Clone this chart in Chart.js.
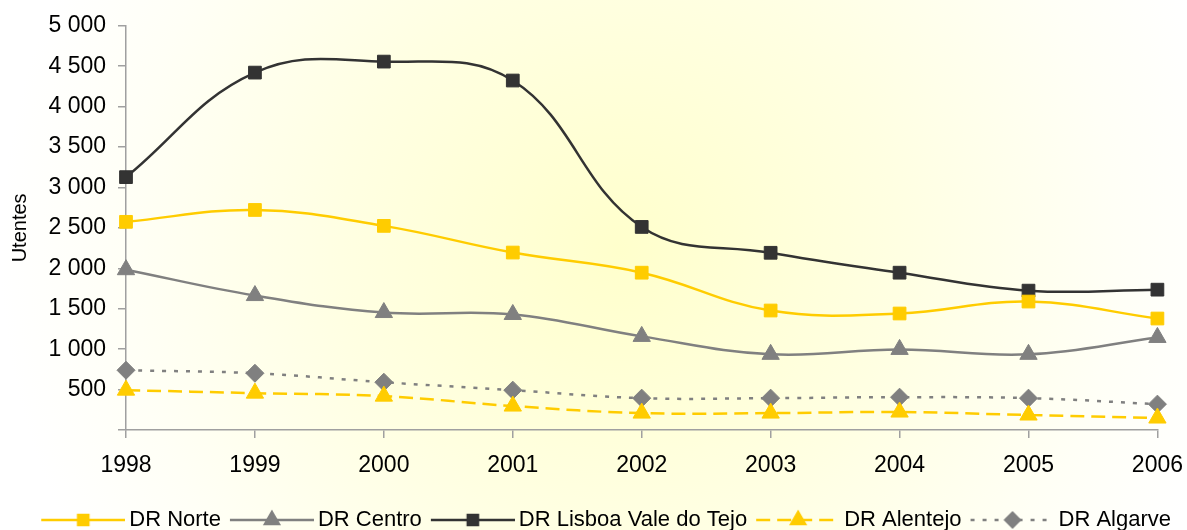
<!DOCTYPE html>
<html>
<head>
<meta charset="utf-8">
<script src="https://cdn.jsdelivr.net/npm/chart.js@4"></script>
<style>
  html, body { margin:0; padding:0; width:1187px; height:530px; overflow:hidden; background:#ffffff; }
  #wrap { width:1187px; height:530px; position:relative; }
</style>
</head>
<body>
<div id="wrap"><canvas id="c" width="1187" height="530"></canvas></div>
<script>
const years = ['1998','1999','2000','2001','2002','2003','2004','2005','2006'];
const seriesNames = ['DR Norte','DR Centro','DR Lisboa Vale do Tejo','DR Alentejo','DR Algarve'];
const norte    = [2575, 2722, 2525, 2195, 1946, 1478, 1441, 1589, 1379];
const centro   = [1983, 1663, 1453, 1429, 1158,  936,  997,  936, 1145];
const lisboa   = [3128, 4421, 4557, 4323, 2512, 2192, 1946, 1724, 1736];
const alentejo = [ 493,  456,  419,  296,  209,  209,  222,  185,  148];
const algarve  = [ 739,  702,  591,  493,  394,  394,  406,  394,  320];
const yTicks = [0, 500, 1000, 1500, 2000, 2500, 3000, 3500, 4000, 4500, 5000];

const FONT = '"Liberation Sans", Arial, sans-serif';

// legend swatch: line (84px) with marker, shifted to the right inside the image
const BOXW = 85, EXTRA = 7, LINE_LEN = 84;
function legendImage(color, dash, style, radius) {
  const w = BOXW + 2 * EXTRA, h = 22;
  const cv = document.createElement('canvas');
  cv.width = w; cv.height = h;
  const ctx = cv.getContext('2d');
  const x1 = w - LINE_LEN, x2 = w;
  ctx.strokeStyle = color;
  ctx.lineWidth = 2.5;
  ctx.setLineDash(dash);
  ctx.beginPath();
  ctx.moveTo(x1, h/2); ctx.lineTo(x2, h/2);
  ctx.stroke();
  ctx.setLineDash([]);
  Chart.helpers.drawPoint(ctx, {pointStyle: style, radius: radius, rotation: 0, borderWidth: 1}, (x1 + x2) / 2, h/2);
  ctx.fillStyle = color;
  ctx.fill();
  return cv;
}

const bgPlugin = {
  id: 'bg',
  beforeDraw(chart) {
    const ctx = chart.ctx;
    const W = chart.width, H = chart.height;
    ctx.save();
    ctx.fillStyle = '#ffffff';
    ctx.fillRect(0, 0, W, H);
    const g = ctx.createRadialGradient(620, 250, 0, 620, 250, 620);
    g.addColorStop(0, '#ffffcc');
    g.addColorStop(0.45, '#ffffe2');
    g.addColorStop(0.8, '#fffff6');
    g.addColorStop(1, '#ffffff');
    ctx.fillStyle = g;
    ctx.fillRect(0, 0, W, H);
    ctx.restore();
  }
};

const defs = [
  {data: norte,    color: '#ffcc00', dash: [],      style: 'rect',     r: 9},
  {data: centro,   color: '#808080', dash: [],      style: 'triangle', r: 10},
  {data: lisboa,   color: '#333333', dash: [],      style: 'rect',     r: 9},
  {data: alentejo, color: '#ffcc00', dash: [14, 7], style: 'triangle', r: 10},
  {data: algarve,  color: '#808080', dash: [4, 8],  style: 'rectRot',  r: 9}
];

const datasets = defs.map((d, i) => ({
  label: seriesNames[i],
  data: d.data,
  borderColor: d.color,
  backgroundColor: d.color,
  borderWidth: 2.5,
  borderDash: d.dash,
  tension: 0.4,
  pointStyle: d.style,
  pointRadius: d.r,
  pointHoverRadius: d.r,
  pointBorderWidth: 1,
  pointBorderColor: d.color,
  pointBackgroundColor: d.color,
  fill: false,
  clip: false
}));

const chart = new Chart(document.getElementById('c'), {
  type: 'line',
  data: { labels: years, datasets: datasets },
  plugins: [bgPlugin],
  options: {
    responsive: false,
    animation: false,
    events: [],
    layout: { padding: { top: 14, right: 15, left: 0, bottom: -11 } },
    plugins: {
      tooltip: { enabled: false },
      title: { display: false },
      legend: {
        position: 'bottom',
        align: 'end',
        labels: {
          usePointStyle: true,
          pointStyleWidth: BOXW,
          boxHeight: 22,
          padding: 1,
          color: '#000000',
          font: { family: FONT, size: 22 },
          generateLabels(chart) {
            return chart.data.datasets.map((ds, i) => ({
              text: ds.label,
              pointStyle: legendImage(defs[i].color, defs[i].dash, defs[i].style, defs[i].r * 0.8),
              fillStyle: defs[i].color,
              strokeStyle: defs[i].color,
              lineWidth: 0,
              hidden: false,
              datasetIndex: i,
              fontColor: '#000000'
            }));
          }
        }
      }
    },
    scales: {
      x: {
        offset: false,
        afterFit(scale) { scale.height = 78; },
        grid: { display: true, drawOnChartArea: false, drawTicks: true, tickLength: 8, color: '#a0a0a0', lineWidth: 1.5 },
        border: { display: true, color: '#a0a0a0', width: 1.5 },
        ticks: { color: '#000000', font: { family: FONT, size: 23, lineHeight: 2.087 }, padding: 4, maxRotation: 0, autoSkip: false }
      },
      y: {
        min: 0, max: 5000,
        afterBuildTicks(scale) { scale.ticks = yTicks.map(v => ({ value: v })); },
        afterFit(scale) { scale.width = 126; },
        grid: { display: true, drawOnChartArea: false, drawTicks: true, tickLength: 8, color: '#a0a0a0', lineWidth: 1.5 },
        border: { display: true, color: '#a0a0a0', width: 1.5 },
        ticks: {
          color: '#000000',
          font: { family: FONT, size: 23 },
          padding: 12,
          callback(v) {
            if (v === 0) return '';
            return String(v).replace(/\B(?=(\d{3})+(?!\d))/g, ' ');
          }
        },
        title: { display: true, text: 'Utentes', color: '#000000', font: { family: FONT, size: 20 }, padding: { top: 8, bottom: 0 } }
      }
    }
  }
});
</script>
</body>
</html>
